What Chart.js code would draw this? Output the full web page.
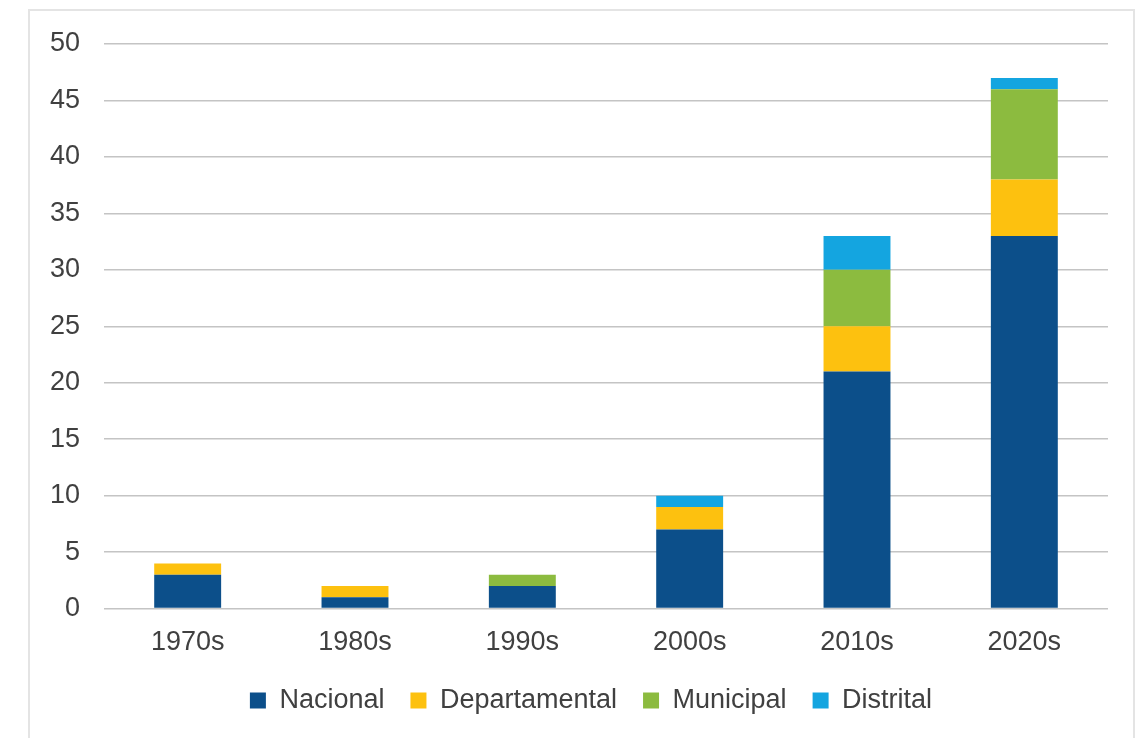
<!DOCTYPE html>
<html>
<head>
<meta charset="utf-8">
<script src="https://cdn.jsdelivr.net/npm/chart.js@4"></script>
<style>
  html, body { margin: 0; padding: 0; background: #fff; }
  #frame { position: absolute; left: 28px; top: 9px; width: 1107px; height: 760px; border: 2px solid #e4e4e4; box-sizing: border-box; }
  #wrap { position: absolute; left: 0; top: 0; width: 1141px; height: 738px; }
</style>
</head>
<body>
<div id="frame"></div>
<div id="wrap"><canvas id="chart"></canvas></div>
<script>
// 年代
const decades = ['1970s', '1980s', '1990s', '2000s', '2010s', '2020s'];
// 各層級數量
const nacional = [3, 1, 2, 7, 21, 33];
const departamental = [1, 1, 0, 2, 4, 5];
const municipal = [0, 0, 1, 0, 5, 8];
const distrital = [0, 0, 0, 1, 3, 1];
const seriesNames = ['Nacional', 'Departamental', 'Municipal', 'Distrital'];
const seriesColors = ['#0c4f8a', '#fdc10f', '#8cbb3f', '#14a5e0'];

const font = { family: 'Liberation Sans, Arial, sans-serif', size: 27 };

// 調整圖例位置 (往上、往右)
const legendShift = {
    id: 'legendShift',
    afterLayout(chart) {
        const dy = 8, dx = 37;
        chart.legend.top -= dy;
        chart.legend.bottom -= dy;
        chart.legend.left += dx;
        chart.legend.right += dx;
    }
};

const ctx = document.getElementById('chart').getContext('2d');
const chart = new Chart(ctx, {
    type: 'bar',
    data: {
        labels: decades,
        datasets: [nacional, departamental, municipal, distrital].map((d, i) => ({
            label: seriesNames[i],
            data: d,
            backgroundColor: seriesColors[i],
            borderWidth: 0,
            barPercentage: 0.4,
            categoryPercentage: 1.0,
        })),
    },
    options: {
        responsive: true,
        maintainAspectRatio: false,
        animation: false,
        layout: { padding: { left: 0, right: 33, top: 44, bottom: 6 } },
        plugins: {
            tooltip: { enabled: false },
            legend: {
                position: 'bottom',
                labels: {
                    font: font,
                    color: '#404040',
                    boxWidth: 16,
                    boxHeight: 16,
                    padding: 26,
                },
            },
        },
        scales: {
            x: {
                stacked: true,
                grid: { display: false },
                border: { display: false },
                ticks: { font: font, color: '#404040', padding: 10 },
            },
            y: {
                stacked: true,
                min: 0,
                max: 50,
                ticks: { stepSize: 5, font: font, color: '#404040', padding: 24 },
                grid: { color: '#c4c4c4', lineWidth: 1.5, drawTicks: false },
                border: { display: false },
                afterFit: function(scale) { scale.width = 104; },
            },
        },
    },
    plugins: [legendShift],
});
</script>
</body>
</html>
